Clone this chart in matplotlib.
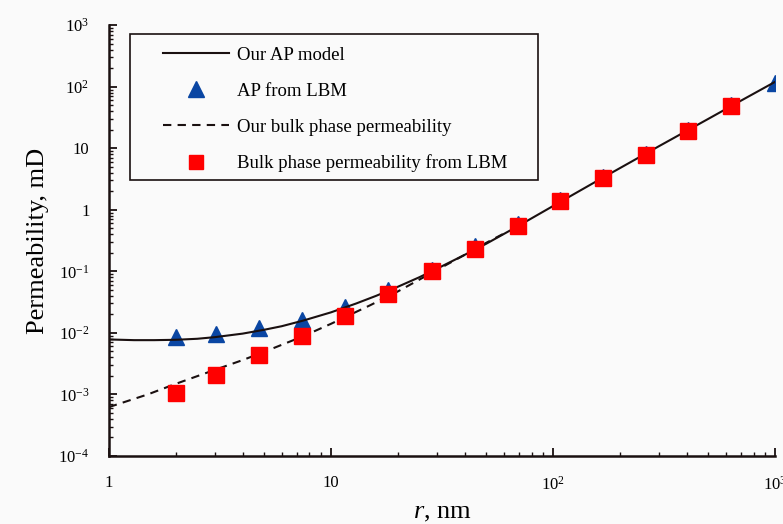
import matplotlib.pyplot as plt
from matplotlib.patches import Rectangle
from matplotlib.ticker import LogLocator, FixedLocator, NullFormatter

plt.rcParams['font.family'] = ['Liberation Serif', 'DejaVu Serif']
plt.rcParams['mathtext.fontset'] = 'custom'
plt.rcParams['mathtext.rm'] = 'Liberation Serif'
plt.rcParams['mathtext.it'] = 'Liberation Serif:italic'

# pore radius for the LBM points, nm
r_lbm = [2.0, 3.05, 4.75, 7.4, 11.6, 18.1, 28.6, 44.5, 69.5, 108, 168, 262, 405, 633, 1000]
# apparent permeability from LBM, mD
k_ap_lbm = [0.0087, 0.0096, 0.012, 0.016, 0.026, 0.050, 0.105, 0.26, 0.58, 1.42, 3.4, 8.0, 19.5, 50, 115]
# bulk phase permeability from LBM, mD
r_bulk_lbm = r_lbm[:-1]
k_bulk_lbm = [0.00107, 0.0021, 0.0043, 0.0089, 0.019, 0.043, 0.10, 0.23, 0.55, 1.39, 3.3, 7.8, 19, 49]

# our AP model curve
r_ap = [1.0, 1.3, 1.6, 2.0, 2.5, 3.0, 4.0, 5.0, 6.0, 7.5, 10, 13, 16, 20, 25, 30, 40, 50, 70, 100, 150, 200, 300, 500, 700, 1000]
k_ap = [0.0078, 0.0076, 0.0076, 0.0077, 0.0080, 0.0085, 0.0097, 0.0112, 0.0128, 0.0158, 0.0215, 0.030, 0.040, 0.056, 0.080, 0.110, 0.185, 0.28, 0.55, 1.15, 2.65, 4.75, 10.8, 30, 59, 120]
# our bulk phase permeability curve
r_bulk = [1.0, 1.5, 2.0, 3.0, 4.0, 5.0, 7.5, 10, 15, 20, 30, 40, 50, 60]
k_bulk = [0.00062, 0.00100, 0.00148, 0.0025, 0.0036, 0.0049, 0.0088, 0.0140, 0.028, 0.047, 0.105, 0.185, 0.29, 0.41]

y_ticks = [1e-4, 1e-3, 1e-2, 1e-1, 1, 10, 1e2, 1e3]
y_labels = ['$10^{-4}$', '$10^{-3}$', '$10^{-2}$', '$10^{-1}$', '1', '10', '$10^{2}$', '$10^{3}$']
x_ticks = [1, 10, 1e2, 1e3]
x_labels = ['1', '10', '$10^{2}$', '$10^{3}$']

fig = plt.figure(figsize=(7.83, 5.24), dpi=100, facecolor='#fafafa')
ax = fig.add_axes([0.139, 0.130, 0.851, 0.822])
ax.set_facecolor('#fafafa')

ax.plot(r_ap, k_ap, '-', color='#1a1010', lw=1.5, label='Our AP model', zorder=3)
ax.plot(r_lbm, k_ap_lbm, '^', color='#0a46a3', ms=12, ls='none', label='AP from LBM', zorder=2)
ax.plot(r_bulk, k_bulk, '--', color='#1a1010', lw=1.5, dashes=(4, 3), label='Our bulk phase permeability', zorder=3)
ax.plot(r_bulk_lbm, k_bulk_lbm, 's', color='#ff0000', ms=11, ls='none', label='Bulk phase permeability from LBM', zorder=4)

ax.set_xscale('log')
ax.set_yscale('log')
ax.set_xlim(1, 1000)
ax.set_ylim(1e-4, 1e3)

ax.yaxis.set_major_locator(FixedLocator(y_ticks))
ax.set_yticklabels(y_labels)
ax.xaxis.set_major_locator(FixedLocator(x_ticks))
ax.set_xticklabels(x_labels)
for a in (ax.xaxis, ax.yaxis):
    a.set_minor_locator(LogLocator(base=10, subs=range(2, 10), numticks=20))
    a.set_minor_formatter(NullFormatter())

ax.tick_params(which='major', direction='in', length=6, width=1.3, labelsize=12, color='#1a1010')
ax.tick_params(which='minor', direction='in', length=3, width=1.0, color='#1a1010')
ax.tick_params(axis='y', which='major', pad=14)
ax.tick_params(axis='x', which='major', pad=14)

for s in ['top', 'right']:
    ax.spines[s].set_visible(False)
for s in ['left', 'bottom']:
    ax.spines[s].set_linewidth(1.8)
    ax.spines[s].set_color('#1a1010')

ax.set_ylabel('Permeability, mD', fontsize=19, labelpad=7)
ax.set_xlabel('$r$, nm', fontsize=19, labelpad=6)

# legend box is wider than its content, so draw the frame separately
ax.add_patch(Rectangle((0.032, 0.640), 0.612, 0.339, transform=ax.transAxes,
                       fill=True, facecolor='#fafafa', edgecolor='#1a1010', lw=1.2, zorder=5))
leg = ax.legend(loc='upper left', bbox_to_anchor=(0.081, 0.950), fontsize=13.5,
                frameon=False, handlelength=3.55, labelspacing=1.0, borderpad=0,
                handletextpad=0.43, borderaxespad=0, markerscale=0.95)
leg.set_zorder(6)

fig.savefig('out.png', dpi=100, facecolor=fig.get_facecolor())
